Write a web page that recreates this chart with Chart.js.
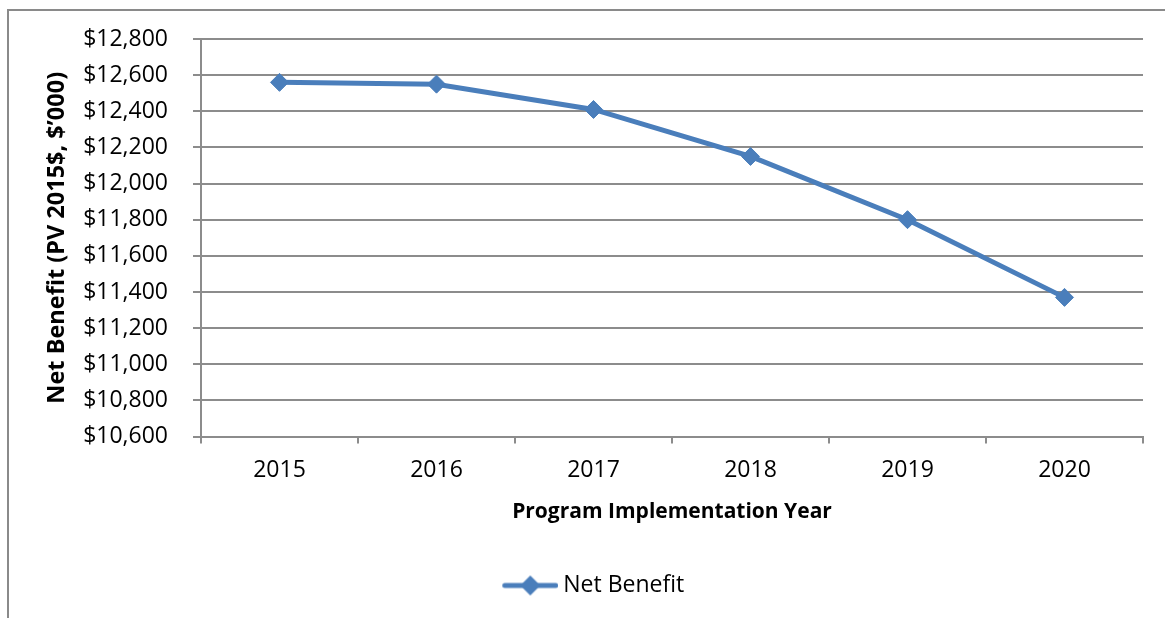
<!DOCTYPE html>
<html>
<head>
<meta charset="utf-8">
<script src="https://cdn.jsdelivr.net/npm/chart.js@4"></script>
<style>
  html, body { margin: 0; padding: 0; background: #fff; overflow: hidden; }
  #frame { position: absolute; left: 7px; top: 9px; width: 1200px; height: 700px; border: 2px solid #8a8a8a; }
  #wrap { position: absolute; left: 0; top: 0; width: 1165px; height: 618px; }
</style>
</head>
<body>
<div id="frame"></div>
<div id="wrap"><canvas id="chart" width="1165" height="618"></canvas></div>
<script>
(() => {
  const years = ["2015", "2016", "2017", "2018", "2019", "2020"];
  const netBenefit = [12560, 12550, 12410, 12150, 11800, 11370];
  const yMin = 10600;
  const yMax = 12800;
  const yStep = 200;

  const blue = "#4a7ebb";
  const gridGray = "#8c8c8c";
  const font = "'Open Sans', 'Noto Sans', sans-serif";

  // legend marker: line with a diamond in the middle (drawn a bit right of centre)
  const marker = document.createElement("canvas");
  marker.width = 66;
  marker.height = 22;
  const mctx = marker.getContext("2d");
  mctx.strokeStyle = blue;
  mctx.lineWidth = 5;
  mctx.lineCap = "round";
  mctx.beginPath();
  mctx.moveTo(12.5, 11);
  mctx.lineTo(63.5, 11);
  mctx.stroke();
  mctx.fillStyle = blue;
  mctx.beginPath();
  mctx.moveTo(28, 11);
  mctx.lineTo(38, 1);
  mctx.lineTo(48, 11);
  mctx.lineTo(38, 21);
  mctx.closePath();
  mctx.fill();

  new Chart(document.getElementById("chart"), {
    type: "line",
    data: {
      labels: years,
      datasets: [{
        label: "Net Benefit",
        data: netBenefit,
        borderColor: blue,
        backgroundColor: blue,
        borderWidth: 5,
        pointStyle: "rectRot",
        pointRadius: 9,
        pointBorderWidth: 1,
        pointBackgroundColor: blue,
        pointBorderColor: blue,
        tension: 0,
      }],
    },
    options: {
      responsive: false,
      animation: false,
      layout: { padding: { left: 40, right: 22, top: 39, bottom: 11 } },
      plugins: {
        tooltip: { enabled: false },
        legend: {
          position: "bottom",
          labels: {
            color: "#000",
            font: { family: font, size: 23 },
            usePointStyle: true,
            pointStyleWidth: 53,
            boxHeight: 20,
            padding: 10,
            generateLabels: (chart) => chart.data.datasets.map((ds, i) => ({
              text: ds.label,
              pointStyle: marker,
              fillStyle: blue,
              strokeStyle: blue,
              lineWidth: 0,
              datasetIndex: i,
            })),
          },
        },
      },
      scales: {
        x: {
          offset: true,
          grid: { offset: true, drawOnChartArea: false, drawTicks: true, tickLength: 7, color: gridGray, lineWidth: 2 },
          border: { color: gridGray, width: 2 },
          ticks: { color: "#000", font: { family: font, size: 23 }, padding: 13, maxRotation: 0 },
          title: {
            display: true,
            text: "Program Implementation Year",
            color: "#000",
            font: { family: font, size: 21, weight: "bold" },
            padding: { top: 0, bottom: 39.4 },
          },
          afterFit: (scale) => { scale.height = 127.5; },
        },
        y: {
          min: yMin,
          max: yMax,
          grid: { color: gridGray, lineWidth: 2, tickLength: 8 },
          border: { color: gridGray, width: 2 },
          ticks: {
            stepSize: yStep,
            color: "#000",
            font: { family: font, size: 23 },
            padding: 25,
            callback: (v) => "$" + v.toLocaleString("en-US"),
          },
          title: {
            display: true,
            text: "Net Benefit (PV 2015$, $\u2019000)",
            color: "#000",
            font: { family: font, size: 23.5, weight: "bold" },
            padding: { top: 3.4, bottom: 0 },
          },
          afterFit: (scale) => { scale.width = 161; },
        },
      },
    },
  });
})();
</script>
</body>
</html>
